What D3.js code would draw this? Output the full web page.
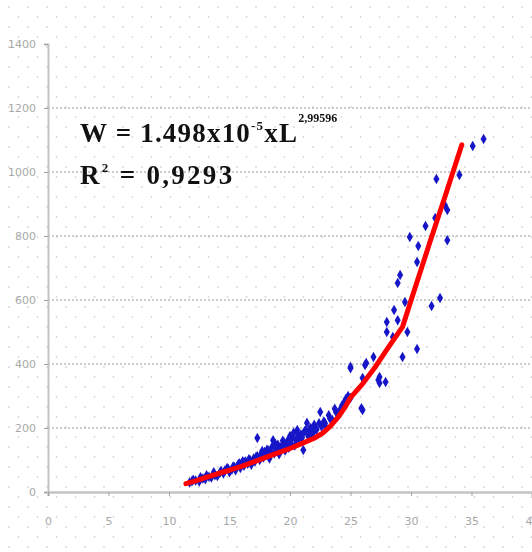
<!DOCTYPE html>
<html>
<head>
<meta charset="utf-8">
<script src="https://cdn.jsdelivr.net/npm/d3@7"></script>
<style>
    body { margin: 0; background: #fff; }
    svg { display: block; }
    .tick-label { font-family: "DejaVu Sans", sans-serif; font-size: 11px; fill: #a8a8a8; }
    .eq { font-family: "Liberation Serif", "Times New Roman", serif; font-weight: bold; fill: #111; }
</style>
</head>
<body>
<svg id="chart" width="532" height="552"></svg>
<script>
// tick values
var xTicks = [0, 5, 10, 15, 20, 25, 30, 35, 40];
var yTicks = [0, 200, 400, 600, 800, 1000, 1200, 1400];

var lengths = [
    11.7, 11.9, 12.2, 12.5, 12.8, 13.0, 13.3, 13.5, 13.8, 14.0,
    14.2, 14.5, 14.6, 14.8, 15.0, 15.2, 15.4, 15.5, 15.7, 15.9,
    16.0, 16.2, 16.3, 16.5, 16.7, 16.8, 17.0, 17.1, 17.3, 17.3,
    17.5, 17.6, 17.8, 17.9, 18.0, 18.2, 18.3, 18.5, 18.6, 18.7,
    18.9, 19.0, 19.1, 19.3, 19.5, 19.6, 19.8, 19.9, 20.0, 20.1,
    20.3, 20.4, 20.5, 20.6, 20.8, 20.9, 21.0, 21.1, 21.2, 21.4,
    21.5, 21.7, 21.9, 22.0, 22.2, 22.5, 22.6, 22.8, 23.0, 23.2,
    23.5, 23.8, 24.0, 24.3, 24.5, 24.8, 25.0, 25.0, 25.0, 25.9,
    26.0, 26.0, 26.2, 26.3, 26.9, 27.3, 27.4, 27.4, 27.9, 28.0,
    28.0, 28.5, 28.6, 28.9, 28.9, 29.1, 29.3, 29.5, 29.7, 29.9,
    30.5, 30.5, 30.6, 31.2, 31.7, 32.0, 32.1, 32.4, 32.8, 33.0,
    33.0, 34.0, 35.1, 36.0,
    12.0, 12.6, 13.1, 13.7, 14.3, 14.9, 15.3, 15.8, 16.1, 16.6,
    17.2, 17.7, 18.1, 18.4, 18.8, 19.2, 19.4, 19.7, 20.2, 20.7,
    21.3, 21.6, 21.8, 22.1, 22.4, 22.9, 23.3, 23.7, 24.1, 24.6
];
var weights = [
    30, 34, 36, 33, 42, 40, 48, 45, 52, 50,
    60, 58, 66, 75, 62, 70, 78, 68, 85, 75,
    90, 82, 95, 88, 100, 85, 105, 95, 169, 112,
    100, 118, 108, 125, 115, 130, 105, 140, 162, 120,
    135, 148, 118, 142, 155, 130, 160, 138, 175, 150,
    185, 145, 165, 194, 158, 180, 170, 131, 190, 216,
    175, 200, 185, 210, 195, 250, 205, 220, 200, 240,
    225, 250, 245, 270, 281, 300, 294, 387, 391, 262,
    256, 356, 397, 403, 422, 350, 359, 341, 344, 531,
    500, 484, 569, 653, 537, 678, 422, 594, 500, 797,
    719, 447, 769, 831, 581, 856, 978, 606, 897, 881,
    787, 991, 1081, 1103,
    38, 46, 52, 62, 66, 72, 80, 90, 96, 102,
    110, 128, 132, 122, 150, 138, 160, 150, 168, 178,
    192, 195, 178, 198, 215, 215, 230, 260, 255, 290
];

// fitted curve W = f(L), as drawn
var fitL = [11.4, 12.2, 13.0, 14.0, 15.0, 16.0, 17.0, 18.0, 19.0, 20.0, 21.0, 22.0, 22.7, 23.3, 24.0, 24.5, 25.0, 26.0, 27.0, 28.0, 29.3, 30.2, 31.6, 32.8, 34.2];
var fitW = [26, 35, 45, 57, 68, 80, 94, 108, 122, 136, 152, 168, 184, 204, 235, 262, 295, 338, 388, 445, 516, 622, 785, 922, 1085];

var svg = d3.select('#chart');
var W = 532, H = 552;

var x = d3.scaleLinear().domain([0, 40]).range([48, 532]);
var y = d3.scaleLinear().domain([0, 1400]).range([492, 44]);

// dotted paper background
var defs = svg.append('defs');
var pat = defs.append('pattern').attr('id', 'dots').attr('patternUnits', 'userSpaceOnUse')
    .attr('width', 19).attr('height', 20).attr('x', 8).attr('y', 6);
pat.append('circle').attr('cx', 1).attr('cy', 1).attr('r', 0.9).attr('fill', '#d6d6d6');
pat.append('circle').attr('cx', 10.5).attr('cy', 11).attr('r', 0.9).attr('fill', '#d6d6d6');
svg.append('rect').attr('width', W).attr('height', H).attr('fill', 'url(#dots)');

var blur = defs.append('filter').attr('id', 'soft');
blur.append('feGaussianBlur').attr('stdDeviation', 0.6);

// horizontal grid
svg.append('g').selectAll('line').data(yTicks.filter(function(d) { return d > 0 && d < 1400; }))
    .enter().append('line')
    .attr('x1', x(0)).attr('x2', W)
    .attr('y1', function(d) { return y(d); }).attr('y2', function(d) { return y(d); })
    .attr('stroke', '#9a9a9a').attr('stroke-width', 1).attr('stroke-dasharray', '2,2');

// y axis
var yAxis = svg.append('g').attr('transform', 'translate(' + x(0) + ',0)')
    .call(d3.axisLeft(y).tickValues(yTicks).tickSize(4).tickFormat(d3.format('d')));
yAxis.select('.domain').attr('stroke', '#c4c4c4').attr('stroke-width', 2);
yAxis.selectAll('.tick line').attr('stroke', '#a0a0a0');
yAxis.selectAll('.tick text').attr('class', 'tick-label').attr('x', -12).attr('dy', '0.35em');

// x axis
var xAxis = svg.append('g').attr('transform', 'translate(0,' + y(0) + ')')
    .call(d3.axisBottom(x).tickValues(xTicks).tickSize(4).tickFormat(d3.format('d')));
xAxis.select('.domain').attr('stroke', '#c4c4c4').attr('stroke-width', 2.5);
xAxis.selectAll('.tick line').attr('stroke', '#a0a0a0');
xAxis.selectAll('.tick text').attr('class', 'tick-label').attr('y', 25);

// scatter points
var pts = d3.range(lengths.length).map(function(i) { return [lengths[i], weights[i]]; });
svg.append('g').attr('filter', 'url(#soft)').selectAll('path').data(pts).enter().append('path')
    .attr('d', d3.symbol().type(d3.symbolDiamond).size(32))
    .attr('transform', function(d) { return 'translate(' + x(d[0]) + ',' + y(d[1]) + ')'; })
    .attr('fill', '#1818c8');

// fitted line
var line = d3.line()
    .x(function(d) { return x(d[0]); })
    .y(function(d) { return y(d[1]); })
    .curve(d3.curveLinear);
svg.append('path')
    .datum(d3.range(fitL.length).map(function(i) { return [fitL[i], fitW[i]]; }))
    .attr('d', line)
    .attr('fill', 'none')
    .attr('stroke', '#ff0000')
    .attr('stroke-width', 5)
    .attr('stroke-linecap', 'round')
    .attr('stroke-linejoin', 'round');

// equation
var eq = svg.append('text').attr('class', 'eq').attr('x', 80).attr('y', 142)
    .attr('font-size', 27).attr('letter-spacing', 1.2);
eq.append('tspan').text('W = 1.498x10');
eq.append('tspan').attr('font-size', 13).attr('dy', -12).text('-5');
eq.append('tspan').attr('dy', 12).text('xL');
eq.append('tspan').attr('font-size', 12).attr('dy', -20).attr('letter-spacing', 0).text('2,99596');

var r2 = svg.append('text').attr('class', 'eq').attr('x', 80).attr('y', 184)
    .attr('font-size', 27).attr('letter-spacing', 2.3);
r2.append('tspan').text('R');
r2.append('tspan').attr('font-size', 13).attr('dy', -12).text('2');
r2.append('tspan').attr('dy', 12).text(' = 0,9293');
</script>
</body>
</html>
